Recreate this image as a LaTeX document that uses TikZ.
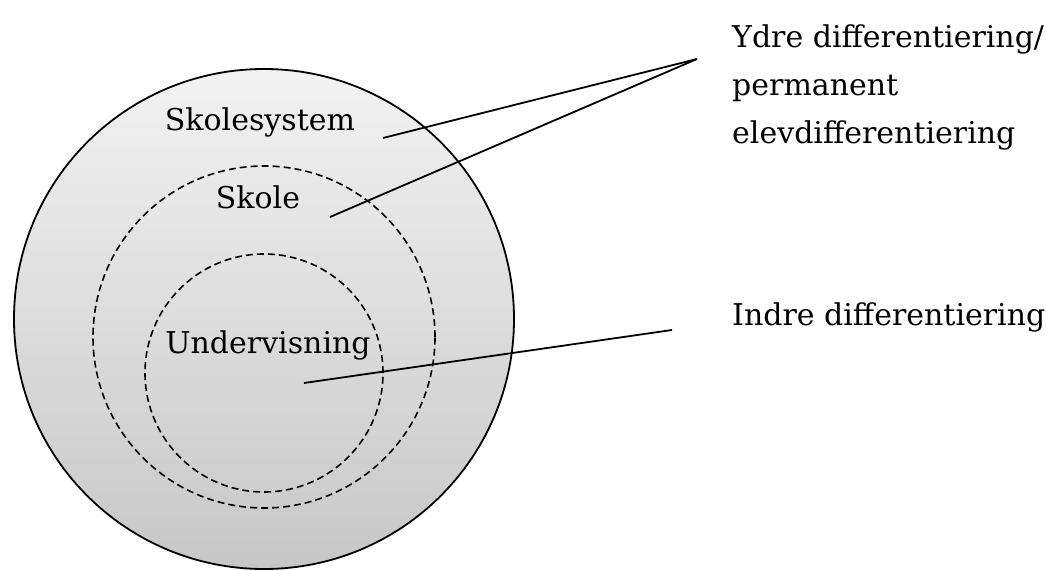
\documentclass[tikz,border=0pt]{standalone}
\usepackage{fontspec}
\setmainfont{DejaVu Serif}
\begin{document}
\begin{tikzpicture}[x=1pt,y=-1pt,
  ring/.style={circle, draw=black, line width=1.8pt, inner sep=0pt},
  dashring/.style={circle, draw=black, line width=1.6pt, inner sep=0pt, dash pattern=on 7pt off 4pt},
  lbl/.style={font=\fontsize{30}{48}\selectfont, inner sep=0pt},
  leader/.style={draw=black, line width=1.8pt}]
\useasboundingbox (0,0) rectangle (1046,570);

% nested levels
\node[ring, minimum size=500pt, top color=black!5, bottom color=black!22] (outer) at (264,319) {};
\node[dashring, minimum size=342pt] (middle) at (264,337) {};
\node[dashring, minimum size=238pt] (inner) at (264,373) {};

% level names
\node[lbl, anchor=base] (tsys) at (260,130) {Skolesystem};
\node[lbl, anchor=base] (tskole) at (258,208) {Skole};
\node[lbl, anchor=base] (tund) at (268,353) {Undervisning};

% explanations (anchored on the baseline of the last line)
\node[lbl, anchor=base west, align=left] (ydre) at (732,143) {Ydre differentiering/\\permanent\\elevdifferentiering};
\node[lbl, anchor=base west] (indre) at (732,325) {Indre differentiering};

% leader lines
\coordinate (psys) at (383,138);
\coordinate (pskole) at (330,217);
\coordinate (pund) at (304,383);
\coordinate (qydre) at (697,59);
\coordinate (qindre) at (672,330);
\draw[leader] (psys) -- (qydre);
\draw[leader] (pskole) -- (qydre);
\draw[leader] (pund) -- (qindre);
\end{tikzpicture}
\end{document}
